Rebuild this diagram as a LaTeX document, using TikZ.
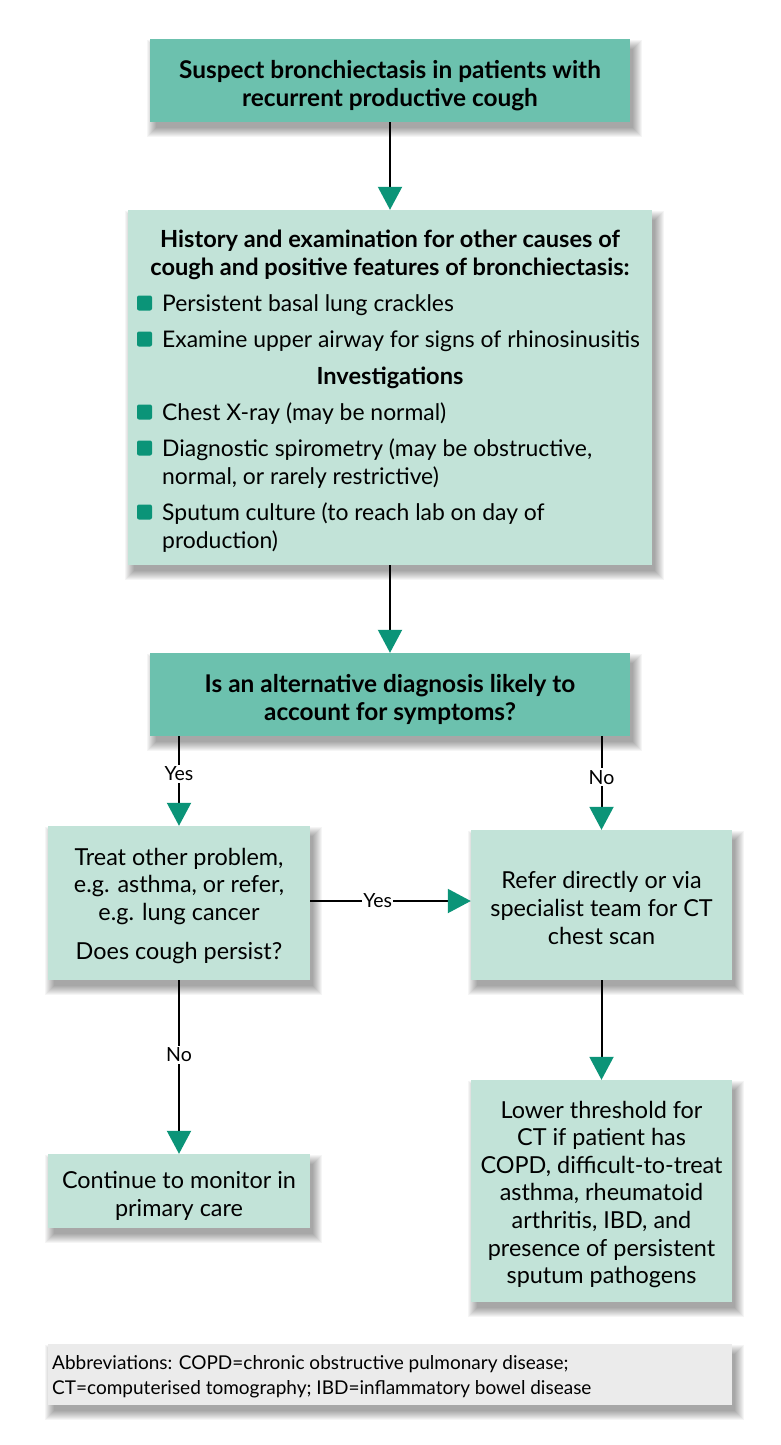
\documentclass[tikz,border=0pt]{standalone}
\usepackage{fontspec}
\setmainfont{Lato}
\usetikzlibrary{arrows.meta}
\definecolor{darkteal}{HTML}{6CC1AE}
\definecolor{lightteal}{HTML}{C2E3D8}
\definecolor{tipgreen}{HTML}{0B9478}
\definecolor{abbgray}{HTML}{EBEBEB}
\newcommand{\softshadow}[1]{%
  \foreach \r in {0,1,...,9}{%
    \fill[black,opacity=0.04] ([xshift=6pt-\r pt,yshift=-10pt+\r pt]#1.north west) rectangle ([xshift=3pt+\r pt,yshift=-6pt-\r pt]#1.south east);}}
\begin{document}
\begin{tikzpicture}[x=1pt,y=-1pt,
  box/.style={inner sep=0pt},
  darkbox/.style={box,fill=darkteal},
  lightbox/.style={box,fill=lightteal},
  dtxt/.style={inner sep=0pt,align=center,font=\bfseries\fontsize{24.4}{28}\selectfont},
  ltxt/.style={inner sep=0pt,align=center,font=\fontsize{23.4}{27.6}\selectfont},
  btxt/.style={inner sep=0pt,anchor=base west,align=left,font=\fontsize{22.9}{28}\selectfont},
  bhead/.style={inner sep=0pt,anchor=base,align=center,font=\bfseries\fontsize{23.6}{27.5}\selectfont},
  bullet/.style={fill=tipgreen,rounded corners=2pt,minimum size=15pt,inner sep=0pt},
  arr/.style={line width=2pt,-{Triangle[length=23pt,width=24pt,color=tipgreen]}},
  lab/.style={fill=white,inner sep=2pt,font=\fontsize{19.5}{21}\selectfont}]
\useasboundingbox (0,0) rectangle (780,1445);
\fill[white] (0,0) rectangle (780,1445);

% box geometry (invisible first, for shadows)
\path
  (390,80.5)   node[box,minimum width=480pt,minimum height=83pt]  (b1) {}
  (390,387.5)  node[box,minimum width=524pt,minimum height=355pt] (b2) {}
  (390,694.5)  node[box,minimum width=480pt,minimum height=83pt]  (b3) {}
  (179,903)    node[box,minimum width=262pt,minimum height=154pt] (b4) {}
  (601.5,905)  node[box,minimum width=261pt,minimum height=150pt] (b5) {}
  (179,1191)   node[box,minimum width=262pt,minimum height=74pt]  (b6) {}
  (601.5,1191) node[box,minimum width=261pt,minimum height=222pt] (b7) {}
  (390,1374.5) node[box,minimum width=684pt,minimum height=61pt]  (ab) {};
\softshadow{b1}\softshadow{b2}\softshadow{b3}\softshadow{b4}
\softshadow{b5}\softshadow{b6}\softshadow{b7}\softshadow{ab}
\fill[darkteal] (b1.north west) rectangle (b1.south east);
\fill[lightteal] (b2.north west) rectangle (b2.south east);
\fill[darkteal] (b3.north west) rectangle (b3.south east);
\fill[lightteal] (b4.north west) rectangle (b4.south east);
\fill[lightteal] (b5.north west) rectangle (b5.south east);
\fill[lightteal] (b6.north west) rectangle (b6.south east);
\fill[lightteal] (b7.north west) rectangle (b7.south east);
\fill[abbgray] (ab.north west) rectangle (ab.south east);

% box texts
\node[dtxt] (b1t) at ([yshift=-5pt]b1.center) {Suspect bronchiectasis in patients with\\recurrent productive cough};
\node[dtxt] (b3t) at ([yshift=-5pt]b3.center) {Is an alternative diagnosis likely to\\account for symptoms?};
\node[ltxt] (b4t) at ([yshift=-3pt]b4.center) {Treat other problem,\\e.g. asthma, or refer,\\e.g. lung cancer\\[12pt]Does cough persist?};
\node[ltxt] (b5t) at ([yshift=-3pt]b5.center) {Refer directly or via\\specialist team for CT\\chest scan};
\node[ltxt] (b6t) at ([yshift=-5pt]b6.center) {Continue to monitor in\\primary care};
\node[ltxt] (b7t) at ([yshift=-3.5pt]b7.center) {Lower threshold for\\CT if patient has\\COPD, difficult-to-treat\\asthma, rheumatoid\\arthritis, IBD, and\\presence of persistent\\sputum pathogens};
\node[inner sep=0pt,anchor=base west,align=left,font=\fontsize{19}{25}\selectfont] (abt) at (52,1394)
  {Abbreviations: COPD=chronic obstructive pulmonary disease;\\CT=computerised tomography; IBD=inflammatory bowel disease};

% contents of box 2
\node[bhead] (h1) at (390,275) {History and examination for other causes of\\cough and positive features of bronchiectasis:};
\node[bullet] (s1) at (144.5,303) {};
\node[btxt] (t1) at (162,311) {Persistent basal lung crackles};
\node[bullet] (s2) at (144.5,339) {};
\node[btxt] (t2) at (162,347) {Examine upper airway for signs of rhinosinusitis};
\node[bhead] (h2) at (390,384) {Investigations};
\node[bullet] (s3) at (144.5,412) {};
\node[btxt] (t3) at (162,420) {Chest X-ray (may be normal)};
\node[bullet] (s4) at (144.5,448) {};
\node[btxt] (t4) at (162,484) {Diagnostic spirometry (may be obstructive,\\normal, or rarely restrictive)};
\node[bullet] (s5) at (144.5,512) {};
\node[btxt] (t5) at (162,548) {Sputum culture (to reach lab on day of\\production)};

% connectors
\draw[arr] (b1.south) -- (b2.north);
\draw[arr] (b2.south) -- (b3.north);
\draw[arr] (b3.south -| b4.north) -- node[lab,pos=0.42] (ly1) {Yes} (b4.north);
\draw[arr] (b3.south -| b5.north) -- node[lab,pos=0.44] (ln1) {No} (b5.north);
\draw[arr] (b4.east |- 0,901) -- node[lab,pos=0.42,inner xsep=1pt] (ly2) {Yes} (b5.west |- 0,901);
\draw[arr] (b4.south) -- node[lab,pos=0.43] (ln2) {No} (b6.north);
\draw[arr] (b5.south) -- (b7.north);
\end{tikzpicture}
\end{document}
